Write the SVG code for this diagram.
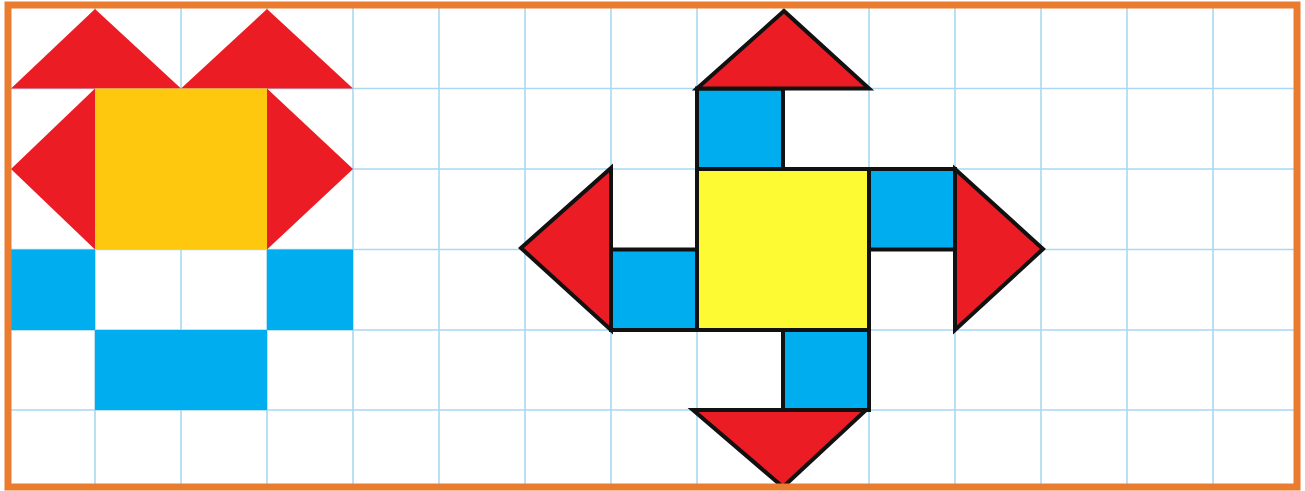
<svg xmlns="http://www.w3.org/2000/svg" width="1305" height="491" viewBox="0 0 1305 491">
  <style>
    .grid line { stroke: #a9d9f2; stroke-width: 1.6; }
    .red { fill: #ec1c24; }
    .blue { fill: #00aeef; }
    .gold { fill: #fdc80d; }
    .yel { fill: #fdf933; }
    .ol { stroke: #111; stroke-width: 4; stroke-linejoin: miter; }
  </style>
  <rect x="0" y="0" width="1305" height="491" fill="#ffffff"/>
  <g id="grid" class="grid">
    <line x1="95" y1="8" x2="95" y2="488"/>
    <line x1="181" y1="8" x2="181" y2="488"/>
    <line x1="267" y1="8" x2="267" y2="488"/>
    <line x1="353" y1="8" x2="353" y2="488"/>
    <line x1="439" y1="8" x2="439" y2="488"/>
    <line x1="525" y1="8" x2="525" y2="488"/>
    <line x1="611" y1="8" x2="611" y2="488"/>
    <line x1="697" y1="8" x2="697" y2="488"/>
    <line x1="783" y1="8" x2="783" y2="488"/>
    <line x1="869" y1="8" x2="869" y2="488"/>
    <line x1="955" y1="8" x2="955" y2="488"/>
    <line x1="1041" y1="8" x2="1041" y2="488"/>
    <line x1="1127" y1="8" x2="1127" y2="488"/>
    <line x1="1213" y1="8" x2="1213" y2="488"/>
    <line x1="8" y1="88.5" x2="1297" y2="88.5"/>
    <line x1="8" y1="169" x2="1297" y2="169"/>
    <line x1="8" y1="249.5" x2="1297" y2="249.5"/>
    <line x1="8" y1="330" x2="1297" y2="330"/>
    <line x1="8" y1="410" x2="1297" y2="410"/>
  </g>

  <g id="left-figure">
    <polygon id="l-top-tri-1" class="red" points="11,88.5 181,88.5 95,9"/>
    <polygon id="l-top-tri-2" class="red" points="181,88.5 353,88.5 267,9"/>
    <rect id="l-square" class="gold" x="95" y="88.5" width="172" height="161"/>
    <polygon id="l-left-tri" class="red" points="95,88.5 95,249.5 11,169"/>
    <polygon id="l-right-tri" class="red" points="267,88.5 267,249.5 353,169"/>
    <rect id="l-blue-left" class="blue" x="11" y="249.5" width="84" height="80.5"/>
    <rect id="l-blue-right" class="blue" x="267" y="249.5" width="86" height="80.5"/>
    <rect id="l-blue-bottom" class="blue" x="95" y="330" width="172" height="80"/>
  </g>

  <g id="right-figure">
    <rect id="r-blue-top" class="blue ol" x="697" y="88.5" width="86" height="80.5"/>
    <rect id="r-blue-right" class="blue ol" x="869" y="169" width="86" height="80.5"/>
    <rect id="r-blue-left" class="blue ol" x="611" y="249.5" width="86" height="80.5"/>
    <rect id="r-blue-bottom" class="blue ol" x="783" y="330" width="86" height="80"/>
    <rect id="r-square" class="yel ol" x="697" y="169" width="172" height="161"/>
    <polygon id="r-top-tri" class="red ol" points="697,88.5 869,88.5 784,11"/>
    <polygon id="r-right-tri" class="red ol" points="955,169 955,330 1043,249"/>
    <polygon id="r-left-tri" class="red ol" points="611,168 611,330 521,248"/>
    <polygon id="r-bottom-tri" class="red ol" points="693,410 866,410 783,487"/>
  </g>

  <g id="connectors"></g>

  <rect id="border" x="8" y="5" width="1289" height="482" fill="none" stroke="#e97c2e" stroke-width="7"/>
</svg>
